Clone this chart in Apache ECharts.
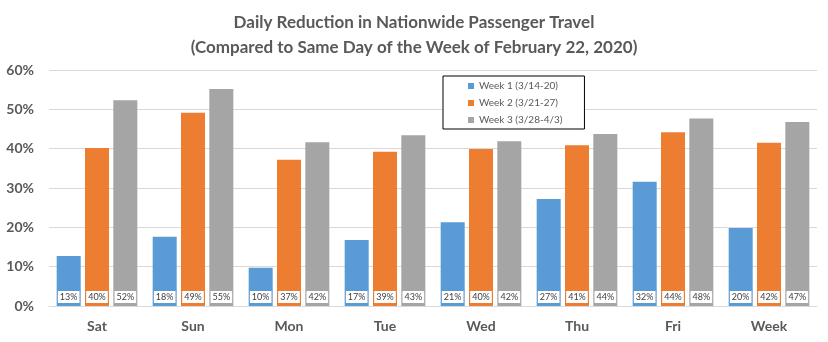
<!DOCTYPE html>
<html><head><meta charset="utf-8">
<script src="https://cdn.jsdelivr.net/npm/echarts@6/dist/echarts.min.js"></script>
<style>html,body{margin:0;padding:0;background:#fff}#c{width:828px;height:342px}</style>
</head><body><div id="c"></div>
<script>
const categories = ['Sat','Sun','Mon','Tue','Wed','Thu','Fri','Week'];
const seriesNames = ['Week 1 (3/14-20)','Week 2 (3/21-27)','Week 3 (3/28-4/3)'];
const week1 = [12.7, 17.6, 9.7, 16.8, 21.3, 27.2, 31.6, 19.8];
const week2 = [40.2, 49.1, 37.2, 39.2, 39.9, 40.9, 44.2, 41.5];
const week3 = [52.3, 55.2, 41.6, 43.4, 41.9, 43.7, 47.7, 46.8];
const yTicks = [0, 10, 20, 30, 40, 50, 60];
const colors = ['#5B9BD5','#ED7D31','#A5A5A5'];
const font = 'Lato, "Open Sans", sans-serif';

const chart = echarts.init(document.getElementById('c'), null, {renderer:'canvas'});
const mk = (name, data, color) => ({
  name, type:'bar', data, barGap:'18%', barCategoryGap:'16%',
  itemStyle:{color},
  label:{show:true, position:'insideBottom', distance:3,
    formatter: p => Math.round(p.value) + '%',
    backgroundColor:'#fff', padding:[2,2,1,2], color:'#404040', fontSize:9, fontFamily:font}
});
chart.setOption({
  animation:false,
  title:[
    {text:'Daily Reduction in Nationwide Passenger Travel', left:'center', top:9,
      textStyle:{fontFamily:font, fontWeight:'bold', fontSize:17, color:'#595959'}},
    {text:'(Compared to Same Day of the Week of February 22, 2020)', left:'center', top:34,
      textStyle:{fontFamily:font, fontWeight:'bold', fontSize:17, color:'#595959'}}
  ],
  legend:{orient:'vertical', left:443, top:76, backgroundColor:'#fff', borderColor:'#000', borderWidth:1,
    padding:[4,22,3,25], itemWidth:6, itemHeight:6, itemGap:5, icon:'rect',
    textStyle:{fontFamily:font, fontSize:10, color:'#595959', lineHeight:12}},
  grid:{left:49, right:11, top:70, bottom:36},
  xAxis:{type:'category', data:categories,
    axisLine:{lineStyle:{color:'#d9d9d9'}}, axisTick:{show:false},
    axisLabel:{fontFamily:font, fontWeight:'bold', fontSize:14, color:'#595959', margin:13}},
  yAxis:{type:'value', min:yTicks[0], max:yTicks[yTicks.length-1], interval:10,
    axisLabel:{formatter:'{value}%', fontFamily:font, fontWeight:'bold', fontSize:14, color:'#595959', margin:15},
    splitLine:{lineStyle:{color:'#d9d9d9'}}, axisLine:{show:false}, axisTick:{show:false}},
  series:[mk(seriesNames[0], week1, colors[0]), mk(seriesNames[1], week2, colors[1]), mk(seriesNames[2], week3, colors[2])]
});
</script></body></html>
